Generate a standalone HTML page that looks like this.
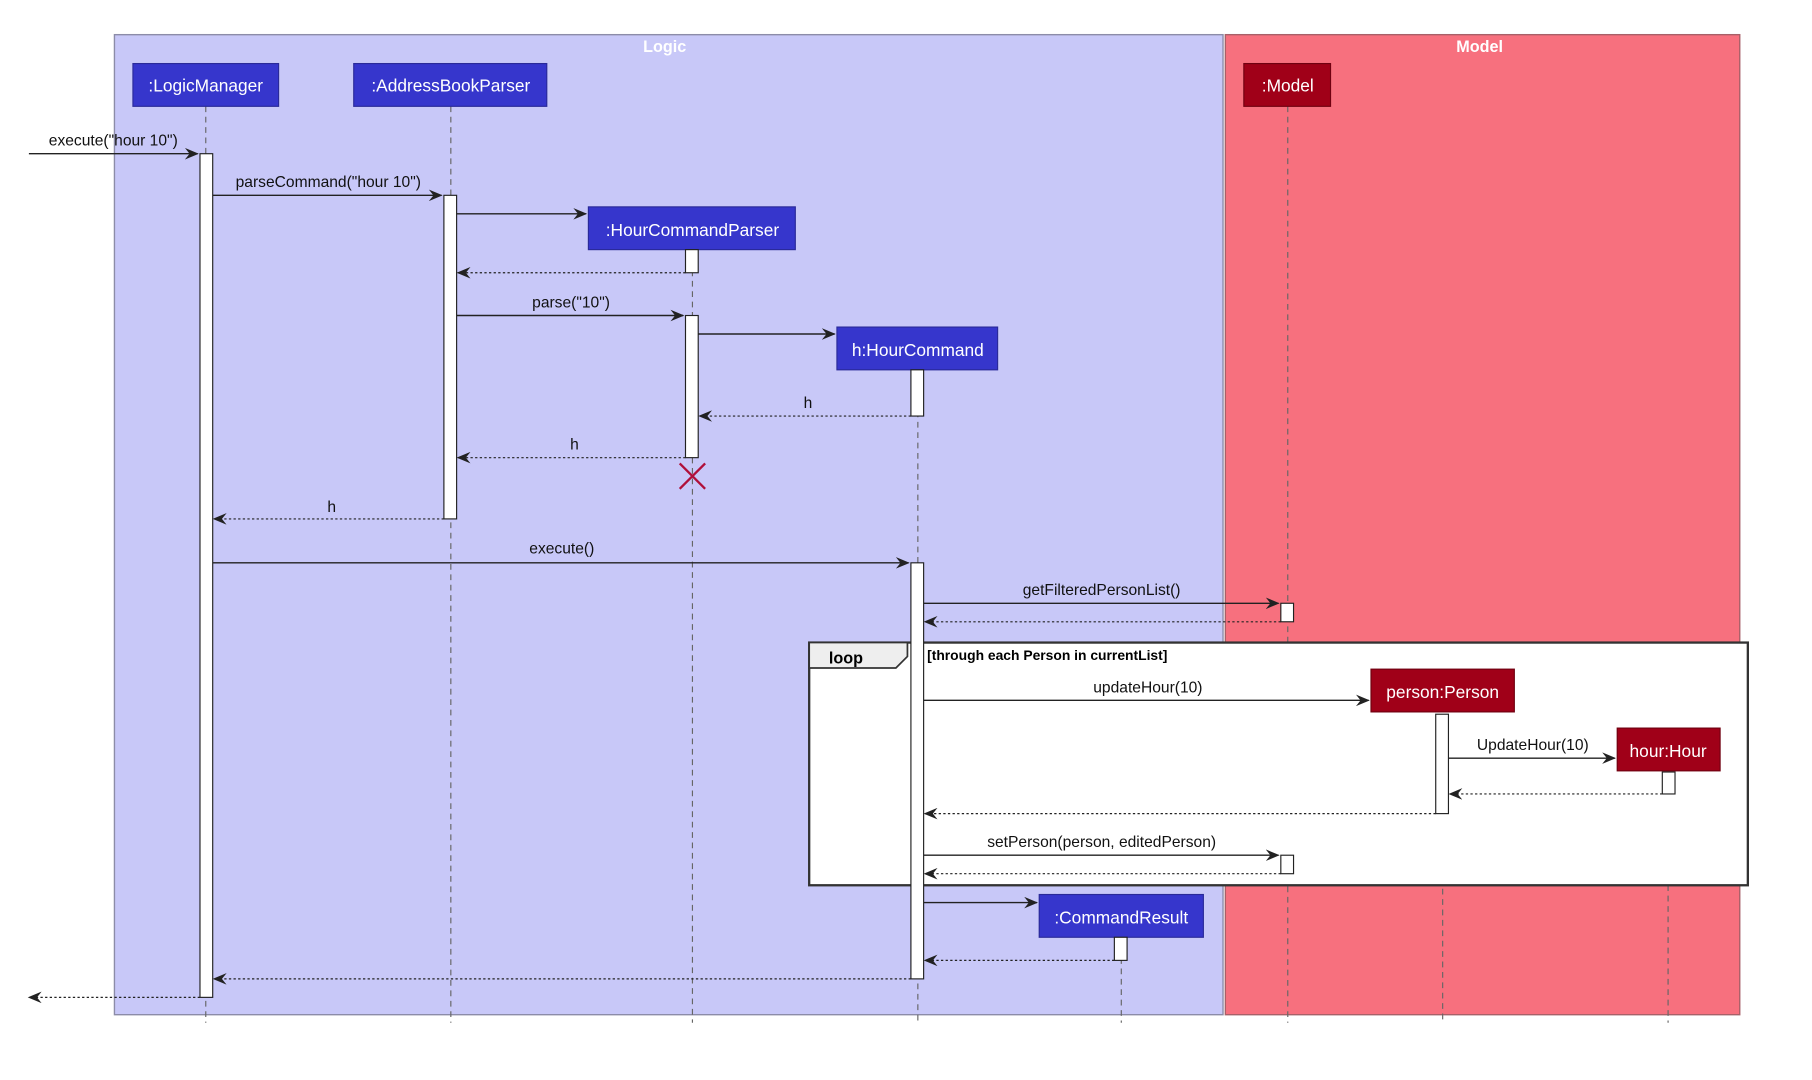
<!DOCTYPE html>
<html><head><meta charset="utf-8"><style>html,body{margin:0;padding:0;background:#fff}svg{display:block}</style></head><body>
<svg width="1812" height="1080" viewBox="0 0 1567.5 934.5" preserveAspectRatio="none" xmlns="http://www.w3.org/2000/svg" font-family="Liberation Sans, sans-serif">
<defs>
<marker id="a" markerWidth="12" markerHeight="10" refX="11" refY="5" orient="auto" markerUnits="userSpaceOnUse"><path d="M0,0 L12,5 L0,10 L4,5 z" fill="#222"/></marker>
</defs>
<rect x="99" y="30" width="959" height="848" fill="#c8c8f8" stroke="#8c8ca8" stroke-width="1.2"/>
<rect x="1060" y="30" width="445" height="848" fill="#f7707e" stroke="#a86068" stroke-width="1.2"/>
<text x="575" y="45" fill="#fff" font-size="14" font-weight="bold" text-anchor="middle">Logic</text>
<text x="1280" y="45" fill="#fff" font-size="14" font-weight="bold" text-anchor="middle">Model</text>
<g stroke="#666" stroke-dasharray="5,4" stroke-width="1">
<line x1="178" y1="92" x2="178" y2="885"/><line x1="390" y1="92" x2="390" y2="885"/><line x1="599" y1="216" x2="599" y2="885"/><line x1="794" y1="320" x2="794" y2="885"/><line x1="970" y1="811" x2="970" y2="885"/><line x1="1114" y1="92" x2="1114" y2="885"/><line x1="1248" y1="616" x2="1248" y2="885"/><line x1="1443" y1="667" x2="1443" y2="885"/>
</g>
<rect x="700" y="556" width="812" height="210" fill="#fff" stroke="#333" stroke-width="2"/>
<path d="M700,556 H785 V568 L775,578 H700 Z" fill="#eee" stroke="#333" stroke-width="1.5"/>
<text x="717" y="574" font-size="14" font-weight="bold">loop</text>
<text x="802" y="571" font-size="12" font-weight="bold">[through each Person in currentList]</text>
<g font-size="15" fill="#fff" text-anchor="middle">
<rect x="115" y="55" width="126" height="37" fill="#3636cc" stroke="#2a2a99"/><text x="178" y="79">:LogicManager</text>
<rect x="306" y="55" width="167" height="37" fill="#3636cc" stroke="#2a2a99"/><text x="390" y="79">:AddressBookParser</text>
<rect x="1076" y="55" width="75" height="37" fill="#a00018" stroke="#700010"/><text x="1114" y="79">:Model</text>
<rect x="509" y="179" width="179" height="37" fill="#3636cc" stroke="#2a2a99"/><text x="599" y="204">:HourCommandParser</text>
<rect x="724" y="283" width="139" height="37" fill="#3636cc" stroke="#2a2a99"/><text x="794" y="308">h:HourCommand</text>
<rect x="899" y="774" width="142" height="37" fill="#3636cc" stroke="#2a2a99"/><text x="970" y="799">:CommandResult</text>
<rect x="1186" y="579" width="124" height="37" fill="#a00018" stroke="#700010"/><text x="1248" y="604">person:Person</text>
<rect x="1399" y="630" width="89" height="37" fill="#a00018" stroke="#700010"/><text x="1443" y="655">hour:Hour</text>
</g>
<g fill="#fff" stroke="#222" stroke-width="1">
<rect x="173" y="133" width="11" height="730"/><rect x="384" y="169" width="11" height="280"/>
<rect x="593" y="216" width="11" height="20"/><rect x="593" y="273" width="11" height="123"/>
<rect x="788" y="320" width="11" height="40"/><rect x="788" y="487" width="11" height="360"/>
<rect x="1108" y="522" width="11" height="16"/><rect x="1108" y="740" width="11" height="16"/>
<rect x="1242" y="618" width="11" height="86"/><rect x="1438" y="668" width="11" height="19"/>
<rect x="964" y="811" width="11" height="20"/>
</g>
<g stroke="#222" stroke-width="1.2" marker-end="url(#a)">
<line x1="25" y1="133" x2="171" y2="133"/><line x1="184" y1="169" x2="382" y2="169"/><line x1="395" y1="185" x2="507" y2="185"/>
<line x1="395" y1="273" x2="591" y2="273"/><line x1="604" y1="289" x2="722" y2="289"/><line x1="184" y1="487" x2="786" y2="487"/>
<line x1="799" y1="522" x2="1106" y2="522"/><line x1="799" y1="606" x2="1184" y2="606"/><line x1="1253" y1="656" x2="1397" y2="656"/>
<line x1="799" y1="740" x2="1106" y2="740"/><line x1="799" y1="781" x2="897" y2="781"/>
</g>
<g stroke="#222" stroke-width="1" stroke-dasharray="2,2" marker-end="url(#a)">
<line x1="593" y1="236" x2="396" y2="236"/><line x1="788" y1="360" x2="605" y2="360"/><line x1="593" y1="396" x2="396" y2="396"/>
<line x1="384" y1="449" x2="185" y2="449"/><line x1="1108" y1="538" x2="800" y2="538"/><line x1="1438" y1="687" x2="1254" y2="687"/>
<line x1="1242" y1="704" x2="800" y2="704"/><line x1="1108" y1="756" x2="800" y2="756"/><line x1="964" y1="831" x2="800" y2="831"/>
<line x1="788" y1="847" x2="185" y2="847"/><line x1="173" y1="863" x2="25" y2="863"/>
</g>
<path d="M588,401 L610,423 M610,401 L588,423" stroke="#b0103a" stroke-width="2"/>
<g font-size="13.5" fill="#111" text-anchor="middle">
<text x="98" y="126">execute("hour 10")</text><text x="284" y="162">parseCommand("hour 10")</text>
<text x="494" y="266">parse("10")</text><text x="699" y="353">h</text><text x="497" y="389">h</text><text x="287" y="443">h</text>
<text x="486" y="479">execute()</text><text x="953" y="515">getFilteredPersonList()</text><text x="993" y="599">updateHour(10)</text>
<text x="1326" y="649">UpdateHour(10)</text><text x="953" y="733">setPerson(person, editedPerson)</text>
</g>
</svg>
</body></html>
